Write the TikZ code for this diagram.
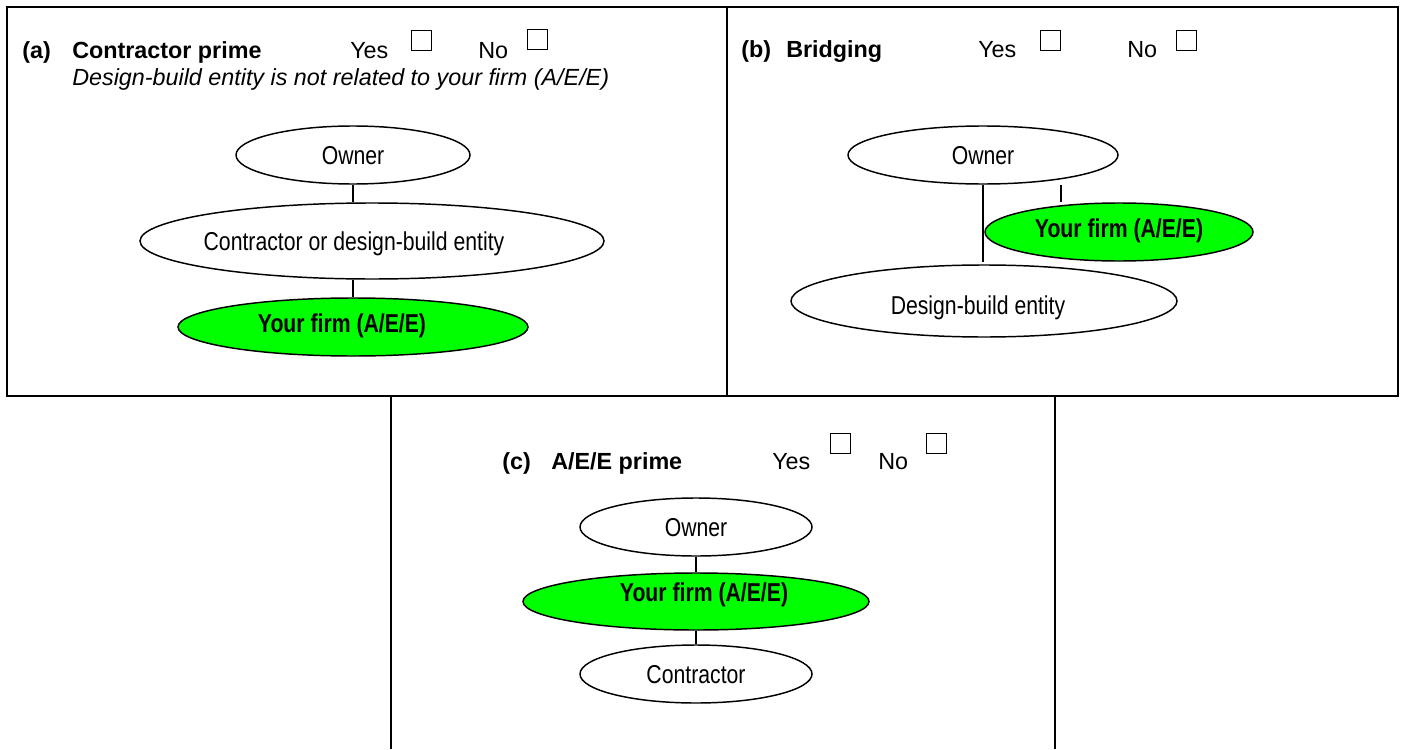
\documentclass[tikz,border=0pt]{standalone}
\usepackage{fontspec}
\setmainfont{Liberation Sans}
\newfontfamily\narrowfont[FakeStretch=0.82]{Liberation Sans}
\usetikzlibrary{shapes.geometric}
\definecolor{firmgreen}{RGB}{0,255,0}
\begin{document}
\begin{tikzpicture}[x=0.75pt,y=-0.75pt,
  frame/.style={line width=1.5pt},
  oval/.style={ellipse,draw,line width=1.1pt,inner sep=0pt,
    font=\narrowfont\fontsize{19.4}{22}\selectfont,text height=13.9pt,text depth=0pt},
  firm/.style={oval,fill=firmgreen,font=\narrowfont\fontsize{19.4}{22}\selectfont\bfseries},
  link/.style={line width=0.9pt},
  ttl/.style={anchor=base west,inner sep=0pt,font=\fontsize{17.5}{20}\selectfont},
  ttlb/.style={ttl,font=\fontsize{17.5}{20}\selectfont\bfseries},
  chk/.style={draw,line width=0.8pt,anchor=north west,minimum size=15pt,inner sep=0pt}
]
\useasboundingbox (0,0) rectangle (1405,749);
% frames
\draw[frame] (7,7.5) rectangle (1398,395.5);
\draw[frame] (727,7.5) -- (727,395.5);
\draw[frame] (391,395.5) -- (391,749);
\draw[frame] (1055,395.5) -- (1055,749);

% ---------- (a)
\node[ttlb] (a-lab) at (22,59) {(a)};
\node[ttlb] (a-name) at (72,59) {Contractor prime};
\node[ttl] (a-yes) at (350,59) {Yes};
\node[chk] (a-ybox) at (411,30) {};
\node[ttl] (a-no) at (478,59) {No};
\node[chk] (a-nbox) at (527,29) {};
\node[ttl,font=\fontsize{17.5}{20}\selectfont\itshape] (a-note) at (72,85)
  {Design-build entity is not related to your firm (A/E/E)};

\node[oval,minimum width=175.5pt,minimum height=43.5pt] (a-own) at (353,155) {Owner};
\node[oval,minimum width=348pt,minimum height=57pt] (a-con) at (372,241)
  {\hspace*{-27pt}Contractor or design-build entity};
\node[firm,minimum width=262.5pt,minimum height=43.5pt,text depth=6pt] (a-firm) at (353,327)
  {\hspace*{-16.5pt}Your firm (A/E/E)};
\draw[link] (a-own.south) -- (a-own.south |- a-con.north);
\draw[link] (a-firm.north |- a-con.south) -- (a-firm.north);

% ---------- (b)
\node[ttlb] (b-lab) at (741,58) {(b)};
\node[ttlb] (b-name) at (786,58) {Bridging};
\node[ttl] (b-yes) at (978,58) {Yes};
\node[chk] (b-ybox) at (1040,30) {};
\node[ttl] (b-no) at (1127,58) {No};
\node[chk] (b-nbox) at (1176,30) {};

\node[oval,minimum width=202.5pt,minimum height=43.5pt] (b-own) at (983,155) {Owner};
\node[firm,minimum width=201pt,minimum height=43.5pt,text depth=6pt] (b-firm) at (1119,232)
  {Your firm (A/E/E)};
\node[oval,minimum width=289.5pt,minimum height=54pt,text height=19.9pt] (b-dbe) at (984,301)
  {\hspace*{-9pt}Design-build entity};
\draw[link] (b-own.south) -- ([yshift=2pt]b-own.south |- b-dbe.north);
\draw[link] ([xshift=58.5pt]b-own.south) -- ([xshift=58.5pt]b-own.south |- b-firm.north);

% ---------- (c)
\node[ttlb] (c-lab) at (502,469) {(c)};
\node[ttlb] (c-name) at (551,469) {A/E/E prime};
\node[ttl] (c-yes) at (772,469) {Yes};
\node[chk] (c-ybox) at (830,433) {};
\node[ttl] (c-no) at (878,469) {No};
\node[chk] (c-nbox) at (926,433) {};

\node[oval,minimum width=174pt,minimum height=43.5pt] (c-own) at (696,527) {Owner};
\node[firm,minimum width=259.5pt,minimum height=42.75pt,text depth=13.5pt] (c-firm) at (696,601.5)
  {\hspace*{12pt}Your firm (A/E/E)};
\node[oval,minimum width=174pt,minimum height=43.5pt] (c-con) at (696,674) {Contractor};
\draw[link] (c-own.south) -- (c-firm.north);
\draw[link] (c-firm.south) -- (c-con.north);
\end{tikzpicture}
\end{document}
